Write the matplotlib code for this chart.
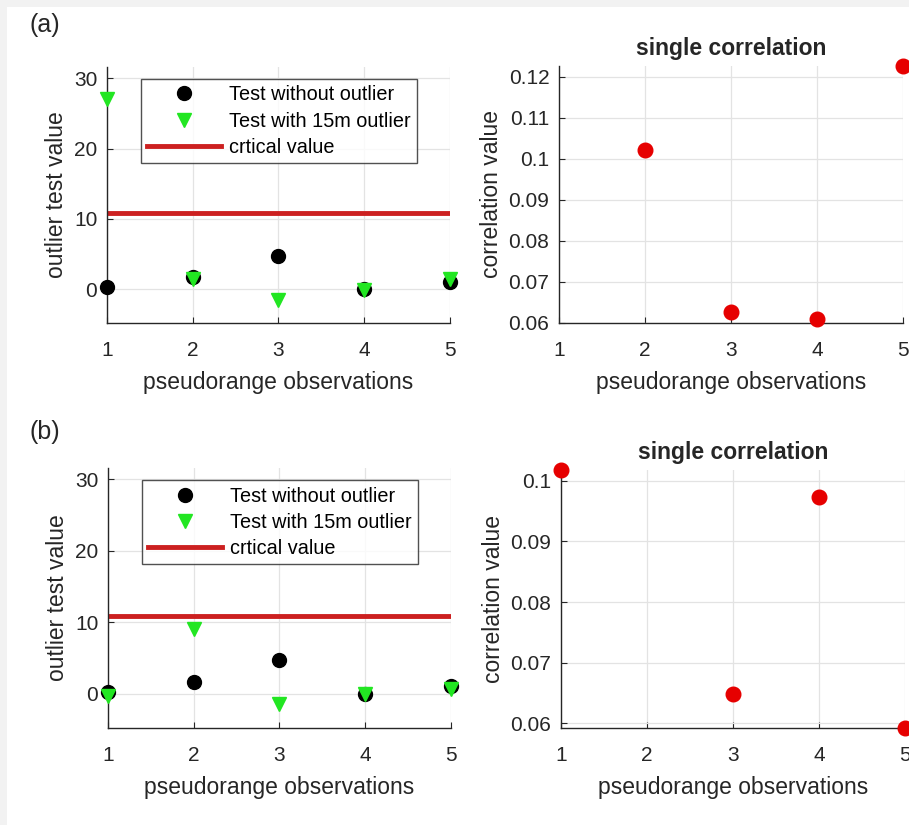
import matplotlib.pyplot as plt
import matplotlib.patches as mpatches
import numpy as np

plt.rcParams['font.family'] = ['Liberation Sans', 'DejaVu Sans']

obs = [1, 2, 3, 4, 5]
crit_value = 10.83

# (a) outlier on observation 1
a_without = [0.3, 1.7, 4.7, 0.0, 1.0]
a_with = [27.1, 1.4, -1.6, -0.1, 1.5]
a_corr = [np.nan, 0.1022, 0.0627, 0.0610, 0.1226]

# (b) outlier on observation 2
b_without = [0.3, 1.6, 4.7, 0.0, 1.1]
b_with = [-0.3, 9.1, -1.4, -0.1, 0.6]
b_corr = [0.1018, np.nan, 0.0648, 0.0974, 0.0592]

fig = plt.figure(figsize=(9.09, 8.25), dpi=100)
fig.patch.set_facecolor('#f2f2f2')
fig.add_artist(mpatches.Rectangle((7 / 909, 0), 1, 1 - 7 / 825,
                                  transform=fig.transFigure,
                                  facecolor='white', edgecolor='none', zorder=-10))

axcol = '#262626'


def style(ax):
    for s in ['top', 'right']:
        ax.spines[s].set_visible(False)
    for s in ['left', 'bottom']:
        ax.spines[s].set_color(axcol)
        ax.spines[s].set_linewidth(1.0)
    ax.tick_params(direction='in', length=4, colors=axcol, labelsize=15, pad=7)
    ax.tick_params(axis='x', pad=13)
    ax.grid(True, color='#e3e3e3', linewidth=0.9)
    ax.set_axisbelow(True)
    ax.set_facecolor('none')
    ax.set_xlim(1, 5)
    ax.set_xticks(obs)
    ax.set_xlabel('pseudorange observations', fontsize=16.5, color=axcol, labelpad=8)


def test_panel(rect, without, withv):
    ax = fig.add_axes(rect)
    style(ax)
    ax.plot(obs, without, 'o', color='black', markersize=10, clip_on=False,
            label='Test without outlier', zorder=3)
    ax.plot(obs, withv, 'v', color='#22e622', markersize=10, clip_on=False,
            label='Test with 15m outlier', zorder=4)
    ax.axhline(crit_value, color='#cc2020', linewidth=3.5, label='crtical value', zorder=2)
    ax.set_ylim(-4.8, 31.6)
    ax.set_yticks([0, 10, 20, 30])
    ax.set_ylabel('outlier test value', fontsize=16.5, color=axcol, labelpad=4)
    leg = ax.legend(loc='upper left', bbox_to_anchor=(0.099, 0.953), borderaxespad=0,
                    fontsize=14.3, frameon=True, fancybox=False, handlelength=3.7,
                    handletextpad=0.4, labelspacing=0.36, borderpad=0.32)
    leg.get_frame().set_edgecolor(axcol)
    leg.get_frame().set_linewidth(1.0)
    return ax


def corr_panel(rect, corr, ticks):
    ax = fig.add_axes(rect)
    style(ax)
    ax.plot(obs, corr, 'o', color='#e60000', markersize=10.5, clip_on=False, zorder=3)
    ax.set_ylim(np.nanmin(corr), np.nanmax(corr))
    ax.set_yticks(ticks)
    ax.set_yticklabels([('%g' % t) for t in ticks])
    ax.set_ylabel('correlation value', fontsize=16.5, color=axcol, labelpad=4)
    ax.set_title('single correlation', fontsize=16.5, fontweight='bold', color=axcol, pad=8)
    return ax


test_panel([0.1177, 0.6085, 0.3773, 0.3103], a_without, a_with)
corr_panel([0.615, 0.6085, 0.3784, 0.3115], a_corr, [0.06, 0.07, 0.08, 0.09, 0.1, 0.11, 0.12])
test_panel([0.1188, 0.1176, 0.3773, 0.3152], b_without, b_with)
corr_panel([0.6172, 0.1176, 0.3784, 0.3127], b_corr, [0.06, 0.07, 0.08, 0.09, 0.1])

fig.text(30 / 909, 1 - 25 / 825, '(a)', fontsize=18, color=axcol, va='center')
fig.text(30 / 909, 1 - 432 / 825, '(b)', fontsize=18, color=axcol, va='center')

fig.savefig('out.png', dpi=100, facecolor=fig.get_facecolor())
